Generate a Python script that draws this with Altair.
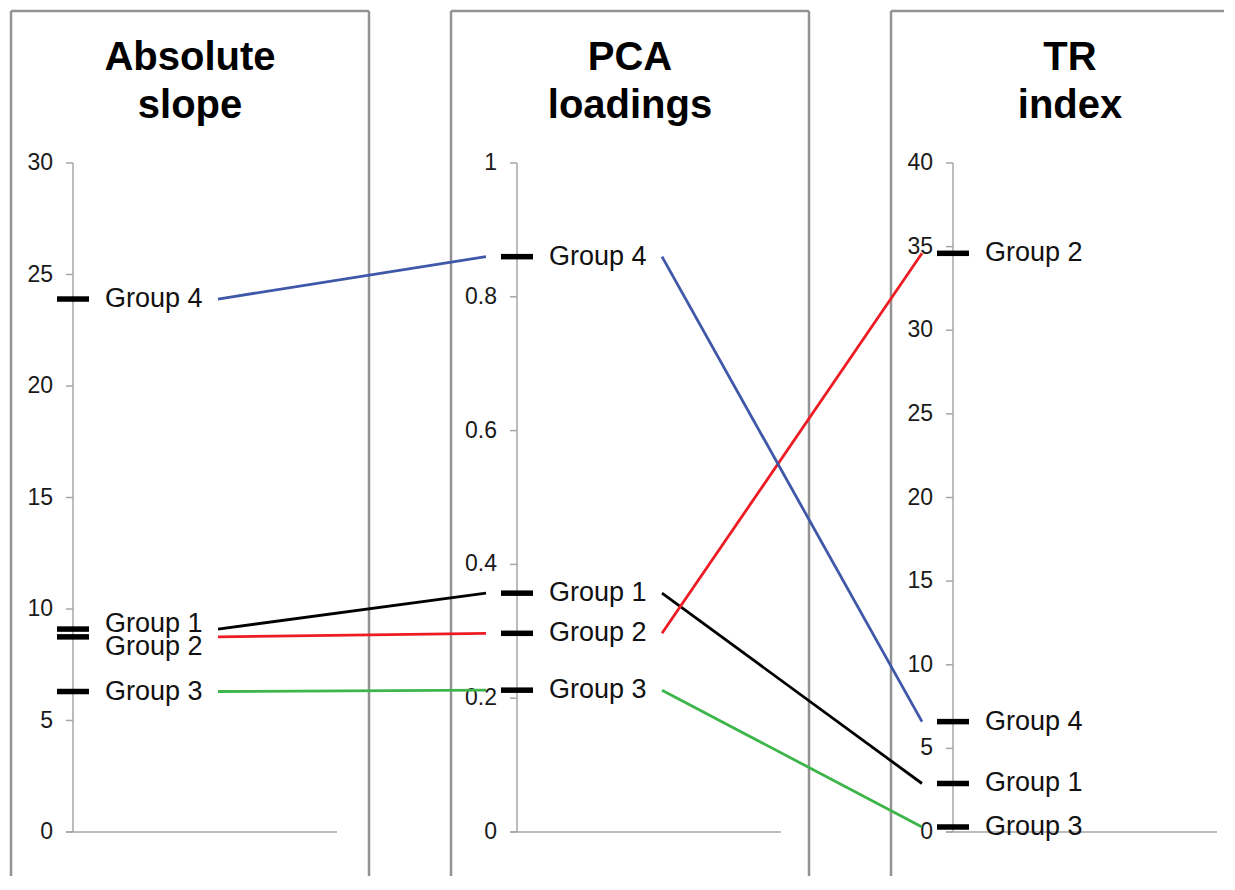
import altair as alt
import pandas as pd

# ---------------- data ----------------
GROUPS = ["Group 1", "Group 2", "Group 3", "Group 4"]
GROUP_COLORS = ["#000000", "#ed1c24", "#3db54a", "#3f57a8"]
PANEL_TITLES = ["Absolute\nslope", "PCA\nloadings", "TR\nindex"]
AXIS_MAX = [30, 1, 40]
TICK_VALUES = [
    [0, 5, 10, 15, 20, 25, 30],
    [0, 0.2, 0.4, 0.6, 0.8, 1],
    [0, 5, 10, 15, 20, 25, 30, 35, 40],
]
TICK_LABELS = [
    ["0", "5", "10", "15", "20", "25", "30"],
    ["0", "0.2", "0.4", "0.6", "0.8", "1"],
    ["0", "5", "10", "15", "20", "25", "30", "35", "40"],
]
ABSOLUTE_SLOPE = [9.1, 8.75, 6.3, 23.9]
PCA_LOADINGS = [0.357, 0.297, 0.212, 0.86]
TR_INDEX = [2.9, 34.6, 0.3, 6.6]
PANEL_VALUES = [ABSOLUTE_SLOPE, PCA_LOADINGS, TR_INDEX]

# ---------------- layout ----------------
W, H = 1219, 868
UNIT_PX = 440          # pixels between panel boxes
AXIS0_PX = 65          # first axis position
AXIS_SHIFT_PX = [0, 4, 0]
ZERO_PX = 824          # pixel row of the value 0
PLOT_PX = 669          # pixels from 0 to the axis maximum
LABEL_NUDGE_PX = {(0, "Group 1"): -5, (0, "Group 2"): 10}
FONT = "Liberation Sans"
AXIS_GRAY = "#a6a6a6"
BOX_GRAY = "#939393"


def dx(px):
    return px / UNIT_PX


def dy(px):
    return px / PLOT_PX


X_MIN = -AXIS0_PX / UNIT_PX
X_MAX = (W - AXIS0_PX) / UNIT_PX
Y_MIN = (ZERO_PX - H) / PLOT_PX
Y_MAX = ZERO_PX / PLOT_PX
x_scale = alt.Scale(domain=[X_MIN, X_MAX], nice=False, zero=False)
y_scale = alt.Scale(domain=[Y_MIN, Y_MAX], nice=False, zero=False)
X = alt.X("x:Q", scale=x_scale, axis=None)
Y = alt.Y("y:Q", scale=y_scale, axis=None)

panels = list(range(len(PANEL_TITLES)))
axis_pos = [p + dx(AXIS_SHIFT_PX[p]) for p in panels]

# box edges as rules (left, top, right); parts beyond the page are cut off
top_y = dy(ZERO_PX - 3)
bottom_y = Y_MIN
x_limit = X_MAX - dx(3)
edge_rows = []
for p in panels:
    left, right = p + dx(-62), p + dx(296)
    edge_rows.append({"x": left, "x2": left, "y": top_y, "y2": bottom_y})
    if right < x_limit:
        edge_rows.append({"x": right, "x2": right, "y": top_y, "y2": bottom_y})
    edge_rows.append({"x": left, "x2": min(right, x_limit), "y": top_y, "y2": top_y})
edges = pd.DataFrame(edge_rows)

titles = pd.DataFrame({
    "x": [p + dx(117) for p in panels],
    "y": [dy(ZERO_PX - 62)] * len(panels),
    "t": PANEL_TITLES,
})
axes = pd.DataFrame({"x": axis_pos, "y": [0.0] * 3, "y2": [1.0] * 3})
bases = pd.DataFrame({
    "x": [a + dx(-7) for a in axis_pos],
    "x2": [a + dx(264) for a in axis_pos],
    "y": [0.0] * 3,
})
tick_rows = []
for p in panels:
    a = axis_pos[p]
    for v, lab in zip(TICK_VALUES[p], TICK_LABELS[p]):
        tick_rows.append({"x": a + dx(-7), "x2": a, "xl": a + dx(-20),
                          "y": v / AXIS_MAX[p], "label": lab})
ticks = pd.DataFrame(tick_rows)

mark_rows = []
for p in panels:
    a = axis_pos[p]
    for g, v in zip(GROUPS, PANEL_VALUES[p]):
        n = v / AXIS_MAX[p]
        mark_rows.append({"x": a + dx(-16), "x2": a + dx(16), "xl": a + dx(32),
                          "y": n, "yl": n - dy(LABEL_NUDGE_PX.get((p, g), 0)),
                          "group": g})
markers = pd.DataFrame(mark_rows)

link_rows = []
for p in panels[:-1]:
    for g, v1, v2 in zip(GROUPS, PANEL_VALUES[p], PANEL_VALUES[p + 1]):
        link_rows.append({"x": axis_pos[p] + dx(145), "x2": axis_pos[p + 1] + dx(-31),
                          "y": v1 / AXIS_MAX[p], "y2": v2 / AXIS_MAX[p + 1],
                          "group": g})
links = pd.DataFrame(link_rows)

box_layer = alt.Chart(edges).mark_rule(
    color=BOX_GRAY, strokeWidth=2.5
).encode(x=X, x2="x2:Q", y=Y, y2="y2:Q")

title_layer = alt.Chart(titles).mark_text(
    font=FONT, fontSize=40, fontWeight="bold", align="center",
    baseline="alphabetic", lineBreak="\n", lineHeight=48, color="#000000"
).encode(x=X, y=Y, text="t:N")

axis_layer = alt.Chart(axes).mark_rule(color=AXIS_GRAY, strokeWidth=1.5).encode(
    x=X, y=Y, y2="y2:Q")
base_layer = alt.Chart(bases).mark_rule(color=AXIS_GRAY, strokeWidth=1.5).encode(
    x=X, x2="x2:Q", y=Y)
tick_layer = alt.Chart(ticks).mark_rule(color=AXIS_GRAY, strokeWidth=1.5).encode(
    x=X, x2="x2:Q", y=Y)
tick_label_layer = alt.Chart(ticks).mark_text(
    font=FONT, fontSize=23, align="right", baseline="middle", color="#1a1a1a"
).encode(x=alt.X("xl:Q", scale=x_scale, axis=None), y=Y, text="label:N")

link_layer = alt.Chart(links).mark_rule(strokeWidth=2.8).encode(
    x=X, x2="x2:Q", y=Y, y2="y2:Q",
    color=alt.Color("group:N", scale=alt.Scale(domain=GROUPS, range=GROUP_COLORS), legend=None),
)
marker_layer = alt.Chart(markers).mark_rule(color="#000000", strokeWidth=5.5).encode(
    x=X, x2="x2:Q", y=Y)
group_label_layer = alt.Chart(markers).mark_text(
    font=FONT, fontSize=27, align="left", baseline="middle", color="#111111"
).encode(x=alt.X("xl:Q", scale=x_scale, axis=None),
         y=alt.Y("yl:Q", scale=y_scale, axis=None), text="group:N")

chart = alt.layer(
    box_layer, title_layer, axis_layer, base_layer, tick_layer, tick_label_layer,
    link_layer, marker_layer, group_label_layer
).properties(
    width=W, height=H, autosize="none", padding=0, background="white"
).configure_view(strokeWidth=0, stroke="transparent")

chart.save("out.html", embed_options={"renderer": "svg", "actions": False})
